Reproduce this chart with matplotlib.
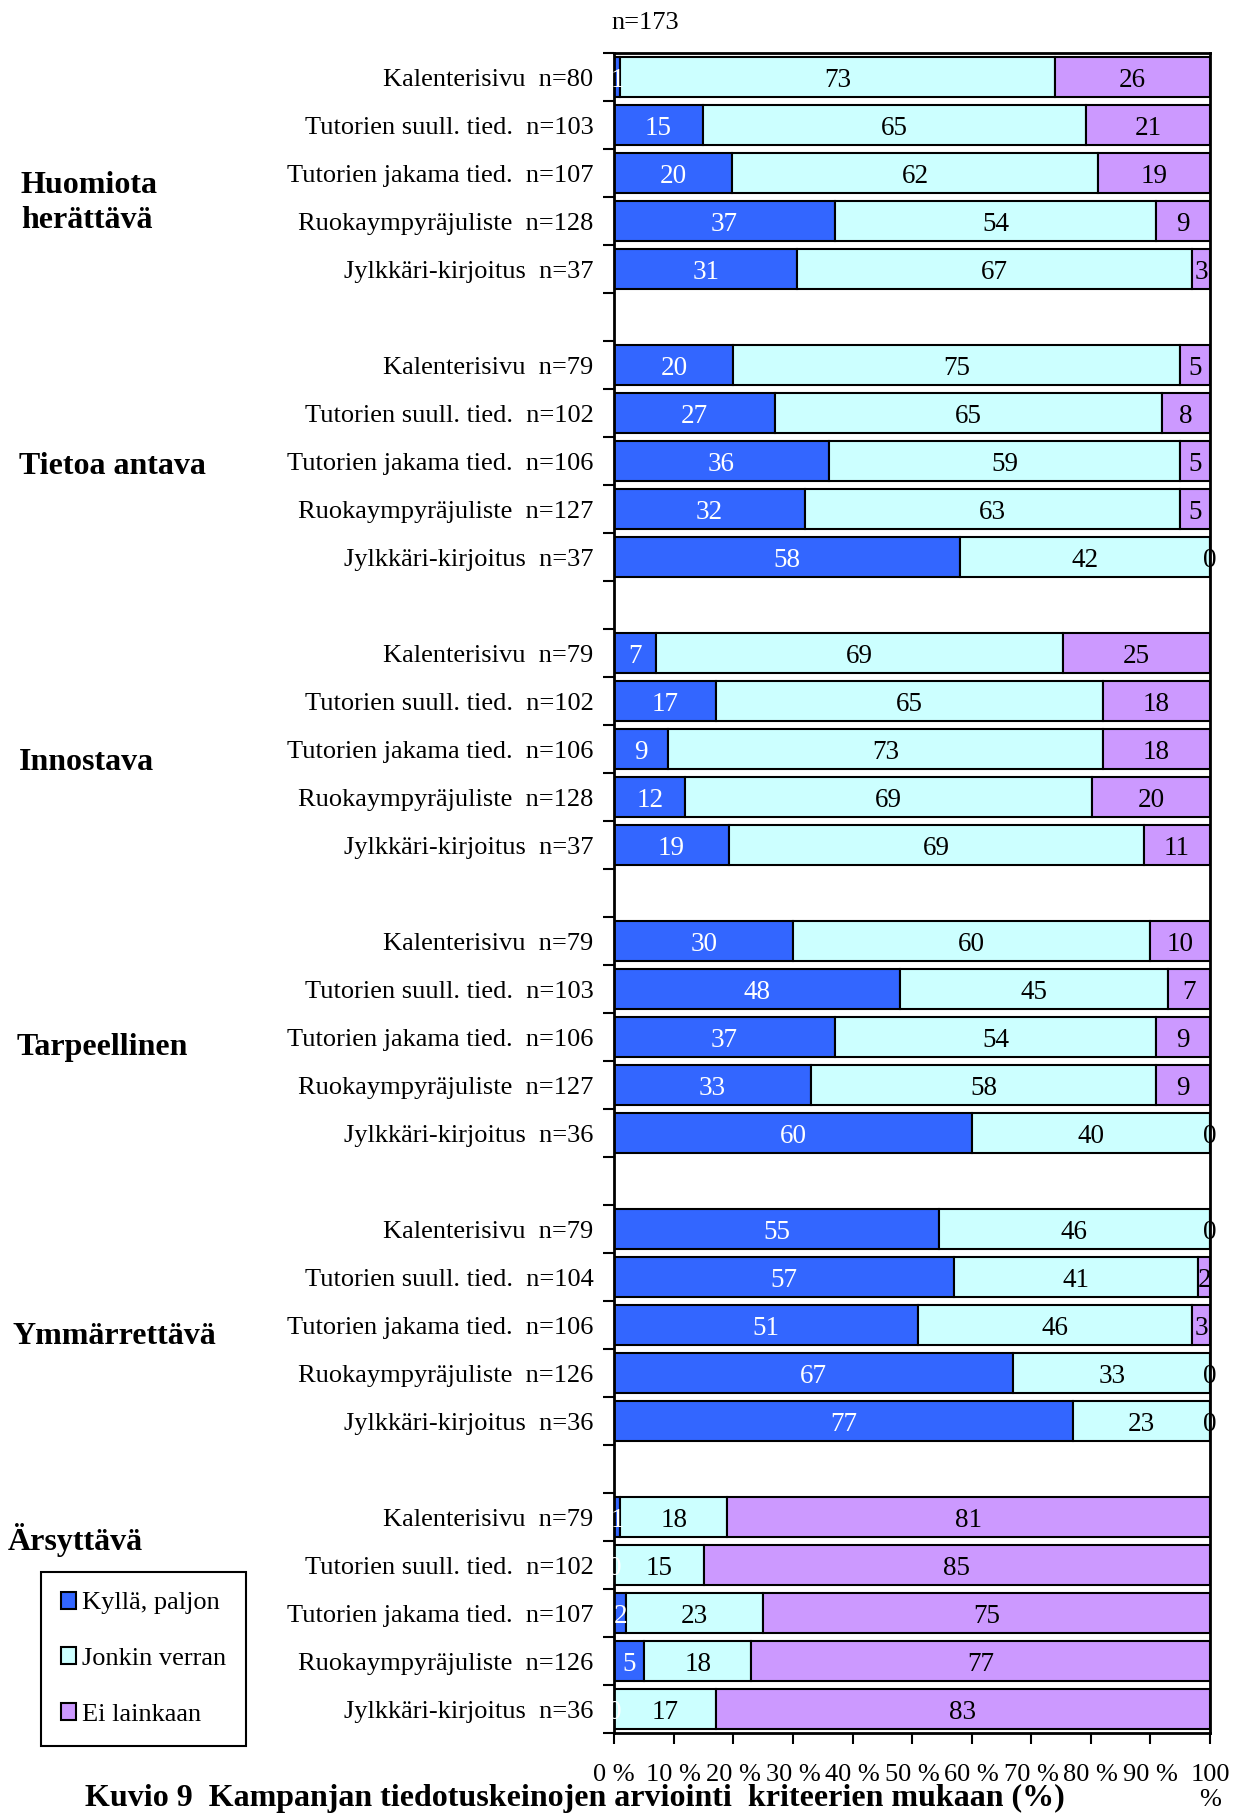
import numpy as np
import matplotlib
matplotlib.use("Agg")
import matplotlib.pyplot as plt
from matplotlib.patches import Patch
from matplotlib.transforms import blended_transform_factory

plt.rcParams["font.family"] = ["Liberation Serif", "DejaVu Serif"]

groups = ["Huomiota\nherättävä", "Tietoa antava", "Innostava", "Tarpeellinen", "Ymmärrettävä", "Ärsyttävä"]
channels = ["Kalenterisivu", "Tutorien suull. tied.", "Tutorien jakama tied.", "Ruokaympyräjuliste", "Jylkkäri-kirjoitus"]
series_names = ["Kyllä, paljon", "Jonkin verran", "Ei lainkaan"]

# respondents per bar, group by group
n_vals = [80, 103, 107, 128, 37,
          79, 102, 106, 127, 37,
          79, 102, 106, 128, 37,
          79, 103, 106, 127, 36,
          79, 104, 106, 126, 36,
          79, 102, 107, 126, 36]

kylla = [1, 15, 20, 37, 31,
         20, 27, 36, 32, 58,
         7, 17, 9, 12, 19,
         30, 48, 37, 33, 60,
         55, 57, 51, 67, 77,
         1, 0, 2, 5, 0]

jonkin = [73, 65, 62, 54, 67,
          75, 65, 59, 63, 42,
          69, 65, 73, 69, 69,
          60, 45, 54, 58, 40,
          46, 41, 46, 33, 23,
          18, 15, 23, 18, 17]

ei = [26, 21, 19, 9, 3,
      5, 8, 5, 5, 0,
      25, 18, 18, 20, 11,
      10, 7, 9, 9, 0,
      0, 2, 3, 0, 0,
      81, 85, 75, 77, 83]

colors = ["#3366FF", "#CCFFFF", "#CC99FF"]
text_colors = ["white", "black", "black"]

vals = np.array([kylla, jonkin, ei], dtype=float)
shares = vals / vals.sum(axis=0) * 100  # 100 % stacked

ypos = np.array([g * 6 + i for g in range(len(groups)) for i in range(len(channels))])
ylabels = [f"{channels[k % 5]}  n={n}" for k, n in enumerate(n_vals)]

fig = plt.figure(figsize=(12.36, 18.16), dpi=100)
ax = fig.add_axes([0.497, 0.0457, 0.482, 0.9251])

left = np.zeros(len(ypos))
for s in range(3):
    ax.barh(ypos, shares[s], left=left, height=0.83, color=colors[s],
            edgecolor="black", linewidth=1.5, zorder=2)
    for k in range(len(ypos)):
        ax.text(left[k] + shares[s][k] / 2, ypos[k] + 0.07, f"{int(vals[s][k])}",
                ha="center", va="center", fontsize=19.5, color=text_colors[s], zorder=3)
    left += shares[s]

ax.set_xlim(0, 100)
ax.set_ylim(34.5, -0.5)

# boundary ticks on the left, labels at bar centres
ax.set_yticks(np.arange(-0.5, 35, 1))
ax.set_yticklabels([])
ax.set_yticks(ypos, ylabels, minor=True)
ax.tick_params(axis="y", which="major", direction="out", length=8, width=1.5)
ax.tick_params(axis="y", which="minor", length=0, pad=15, labelsize=19)

ax.set_xticks(np.arange(0, 101, 10))
ax.set_xticklabels([f"{v} %" for v in range(0, 100, 10)] + ["100\n%"], va="top")
ax.tick_params(axis="x", direction="out", length=8, width=1.5, pad=14, labelsize=19)

for sp in ax.spines.values():
    sp.set_linewidth(2)
    sp.set_color("black")

# criteria names on the far left
trans = blended_transform_factory(fig.transFigure, ax.transData)
group_x = [0.0168, 0.015, 0.015, 0.0131, 0.0103, 0.0066]
group_y = [2.62, 8.12, 14.28, 20.22, 26.24, 30.47]
for name, gx, gy in zip(groups, group_x, group_y):
    ax.text(gx, gy, name, transform=trans, ha="left", va="center",
            fontsize=23, fontweight="bold", linespacing=1.25, clip_on=False)

fig.text(0.495, 0.9875, "n=173", ha="left", va="center", fontsize=19)

handles = [Patch(facecolor=c, edgecolor="black", linewidth=1.5) for c in colors]
leg = fig.legend(handles, series_names, loc="upper left", bbox_to_anchor=(0.0328, 0.1345),
                 fontsize=19, handlelength=0.6, handleheight=0.6, handletextpad=0.2,
                 labelspacing=1.25, borderpad=0.76, borderaxespad=0,
                 fancybox=False, framealpha=1)
leg.get_frame().set_edgecolor("black")
leg.get_frame().set_linewidth(1.5)

fig.text(0.465, 0.0095, "Kuvio 9  Kampanjan tiedotuskeinojen arviointi  kriteerien mukaan (%)",
         ha="center", va="center", fontsize=23, fontweight="bold")

fig.savefig("out.png", dpi=100)
